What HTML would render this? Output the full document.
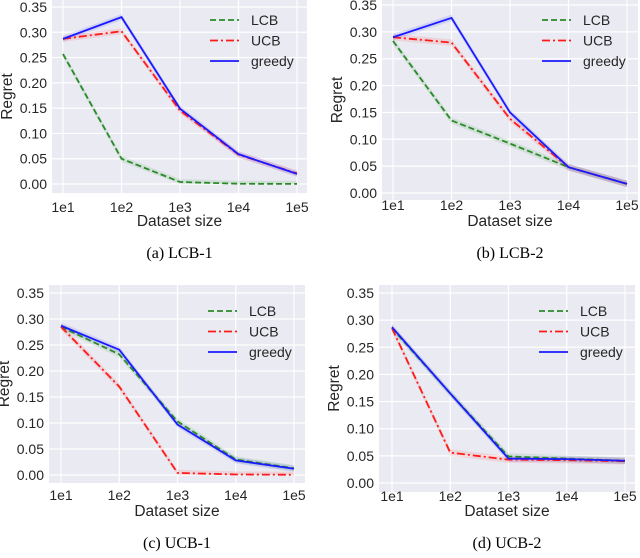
<!DOCTYPE html>
<html><head><meta charset="utf-8"><style>
body{margin:0;background:#fff;}
svg text{font-family:"Liberation Sans",sans-serif;fill:#262626;}
.cap{font-family:"Liberation Serif",serif;font-size:16px;fill:#000;}
</style></head><body>
<svg id="fig" width="640" height="553" viewBox="0 0 640 553" xmlns="http://www.w3.org/2000/svg"></svg>
<script>
const xTicks = ["1e1","1e2","1e3","1e4","1e5"];
const yTicks = [0,0.05,0.10,0.15,0.20,0.25,0.30,0.35];
const seriesNames = ["LCB","UCB","greedy"];
const aLCB = [0.257,0.050,0.004,0.0005,0.0002];
const aUCB = [0.287,0.302,0.145,0.058,0.021];
const aGreedy = [0.287,0.330,0.149,0.059,0.020];
const bLCB = [0.283,0.135,0.092,0.048,0.017];
const bUCB = [0.290,0.280,0.138,0.048,0.017];
const bGreedy = [0.290,0.326,0.150,0.048,0.017];
const cLCB = [0.285,0.232,0.103,0.030,0.013];
const cUCB = [0.285,0.170,0.004,0.001,0.0005];
const cGreedy = [0.287,0.241,0.097,0.028,0.012];
const dLCB = [0.285,0.165,0.049,0.045,0.041];
const dUCB = [0.285,0.056,0.043,0.042,0.040];
const dGreedy = [0.287,0.165,0.045,0.044,0.041];

const panels = [
 {id:"a",cap:"(a)  LCB-1",L:52,R:307,T:0,B:193,x0:63,x1:297,y0:184,y35:7,tickY:212,xlab:226,cy:258,lx:210,ly:20,d:[aLCB,aUCB,aGreedy]},
 {id:"b",cap:"(b)  LCB-2",L:382,R:638,T:0,B:200,x0:393,x1:627,y0:193,y35:5,tickY:210,xlab:226,cy:258,lx:542,ly:20,d:[bLCB,bUCB,bGreedy]},
 {id:"c",cap:"(c)  UCB-1",L:49,R:305,T:285,B:483,x0:61,x1:294,y0:475,y35:293,tickY:500,xlab:516,cy:548,lx:208,ly:311,d:[cLCB,cUCB,cGreedy]},
 {id:"d",cap:"(d)  UCB-2",L:379,R:635,T:285,B:492,x0:392,x1:625,y0:483,y35:293,tickY:501,xlab:516,cy:548,lx:539,ly:311,d:[dLCB,dUCB,dGreedy]}
];
const colors=["#2a8a2a","#ff1a1a","#1a1aff"];
const fills=["rgba(0,128,0,0.10)","rgba(255,0,0,0.10)","rgba(0,0,255,0.10)"];
const dashes=["6,3","8,3,2,3",""];
const NS="http://www.w3.org/2000/svg";
const svg=document.getElementById('fig');
function mk(tag,attrs,parent){const e=document.createElementNS(NS,tag);for(const k in attrs)e.setAttribute(k,attrs[k]);(parent||svg).appendChild(e);return e;}
panels.forEach(p=>{
  const g=mk('g',{});
  
  
  const xs=i=>p.x0+(p.x1-p.x0)*i/(xTicks.length-1);
  const ys=v=>p.y0+(p.y35-p.y0)*v/0.35;
  const bg=mk('rect',{x:p.L,y:p.T,width:p.R-p.L,height:p.B-p.T,fill:"#eaeaf2"},g);
  
  
  yTicks.forEach(v=>{
    const y=ys(v);
    mk('line',{x1:p.L,x2:p.R,y1:y,y2:y,stroke:"#fff","stroke-width":1.2},g);
    const t=mk('text',{x:p.L-5,y:y+5,"text-anchor":"end","font-size":"14"},g);
    t.textContent=v.toFixed(2);
    
    
  });
  xTicks.forEach((lab,i)=>{
    const x=xs(i);
    mk('line',{x1:x,x2:x,y1:p.T,y2:p.B,stroke:"#fff","stroke-width":1.2},g);
    const t=mk('text',{x:x,y:p.tickY,"text-anchor":"middle","font-size":"14"},g);
    t.textContent=lab;
    
    
  });
  const xl=mk('text',{x:(p.L+p.R)/2,y:p.xlab,"text-anchor":"middle","font-size":"15.5"},g);
  xl.textContent="Dataset size";
  
  
  const cyy=(p.T+p.B)/2;
  const yl=mk('text',{x:0,y:0,"text-anchor":"middle","font-size":"15.5",transform:`translate(${p.L-40},${cyy}) rotate(-90)`},g);
  yl.textContent="Regret";
  
  
  p.d.forEach((arr,si)=>{
    const up=arr.map((v,i)=>xs(i)+','+ys(v+0.006)).join(' ');
    const dn=arr.map((v,i)=>xs(i)+','+ys(Math.max(0,v-0.006))).reverse().join(' ');
    const band=mk('polygon',{points:up+' '+dn,fill:fills[si]},g);
    
    
  });
  p.d.forEach((arr,si)=>{
    const pts=arr.map((v,i)=>xs(i)+','+ys(v)).join(' ');
    const ln=mk('polyline',{points:pts,fill:"none",stroke:colors[si],"stroke-width":1.8,"stroke-dasharray":dashes[si]},g);
    
    
  });
  seriesNames.forEach((n,si)=>{
    const y=p.ly+si*20.5;
    const lg=mk('g',{},g);
    
    
    mk('line',{x1:p.lx,x2:p.lx+29,y1:y,y2:y,stroke:colors[si],"stroke-width":1.8,"stroke-dasharray":dashes[si]},lg);
    const t=mk('text',{x:p.lx+41,y:y+5,"font-size":"14"},lg);
    t.textContent=n;
  });
  const c=mk('text',{x:(p.L+p.R)/2,y:p.cy,"text-anchor":"middle",class:"cap"},g);
  c.textContent=p.cap;
  
  
});
</script>
</body></html>
